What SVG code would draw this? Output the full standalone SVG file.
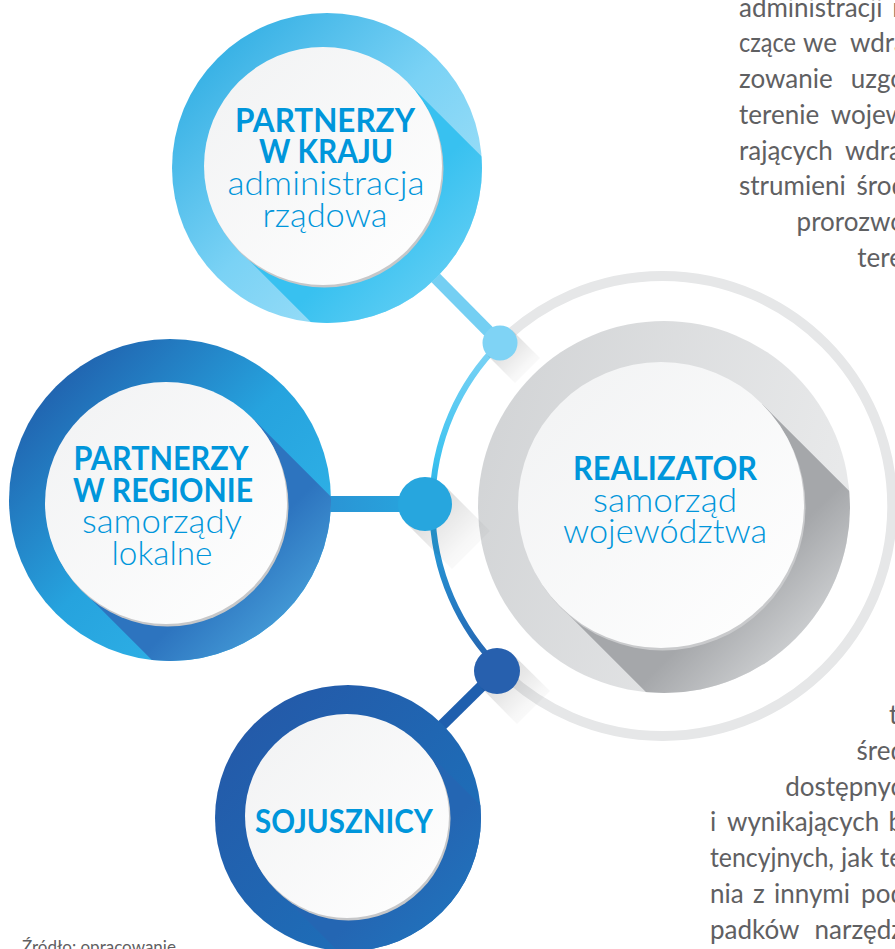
<svg xmlns="http://www.w3.org/2000/svg" width="895" height="949" viewBox="0 0 895 949">
<defs>
  <style>
    .hd{font-family:Lato,"Liberation Sans",sans-serif;font-weight:700;font-size:33px;fill:#0096db;text-anchor:middle}
    .sub{font-family:Lato,"Liberation Sans",sans-serif;font-weight:300;font-size:34px;fill:#0096db;text-anchor:middle}
    .body{font-family:Lato,"Liberation Sans",sans-serif;font-weight:400;font-size:26px;fill:#5f6062}
    .e{text-anchor:end}
    .src{font-family:Lato,"Liberation Sans",sans-serif;font-size:17px;fill:#5f6062}
  </style>
  <linearGradient id="gTopRing" x1="0" y1="0" x2="1" y2="1">
    <stop offset="0" stop-color="#1fa5df"/><stop offset="0.5" stop-color="#7ad2f5"/><stop offset="1" stop-color="#b2e6f9"/>
  </linearGradient>
  <linearGradient id="gTopBand" gradientUnits="userSpaceOnUse" x1="380" y1="223" x2="470" y2="313">
    <stop offset="0" stop-color="#38c1f0"/><stop offset="1" stop-color="#6ed2f5"/>
  </linearGradient>
  <linearGradient id="gLeftRing" x1="0" y1="0" x2="1" y2="1">
    <stop offset="0" stop-color="#1f4c9e"/><stop offset="0.5" stop-color="#26a3de"/><stop offset="1" stop-color="#35bbec"/>
  </linearGradient>
  <linearGradient id="gLeftBand" gradientUnits="userSpaceOnUse" x1="230" y1="567" x2="330" y2="667">
    <stop offset="0" stop-color="#2d74bf"/><stop offset="1" stop-color="#55b8e9"/>
  </linearGradient>
  <linearGradient id="gSojRing" x1="0" y1="0" x2="1" y2="1">
    <stop offset="0" stop-color="#2556a6"/><stop offset="1" stop-color="#1b76be"/>
  </linearGradient>
  <linearGradient id="gSojBand" gradientUnits="userSpaceOnUse" x1="400" y1="870" x2="480" y2="950">
    <stop offset="0" stop-color="#2466b3"/><stop offset="1" stop-color="#1f78c0"/>
  </linearGradient>
  <linearGradient id="gGray" x1="0" y1="0" x2="1" y2="0.3">
    <stop offset="0" stop-color="#d0d2d4"/><stop offset="1" stop-color="#e8e9ea"/>
  </linearGradient>
  <linearGradient id="gGrayBand" gradientUnits="userSpaceOnUse" x1="740" y1="585" x2="800" y2="645">
    <stop offset="0" stop-color="#a5a7aa"/><stop offset="1" stop-color="#cdcfd1"/>
  </linearGradient>
  <linearGradient id="gWhite" x1="0" y1="0" x2="1" y2="1">
    <stop offset="0" stop-color="#f1f2f3"/><stop offset="1" stop-color="#ffffff"/>
  </linearGradient>
  <linearGradient id="gArc" gradientUnits="userSpaceOnUse" x1="0" y1="343" x2="0" y2="670">
    <stop offset="0" stop-color="#7fd3f5"/><stop offset="0.35" stop-color="#3ec3f0"/><stop offset="0.5" stop-color="#27a8e0"/><stop offset="0.75" stop-color="#2684c9"/><stop offset="1" stop-color="#2560ad"/>
  </linearGradient>
  <linearGradient id="gMid" gradientUnits="userSpaceOnUse" x1="300" y1="0" x2="425" y2="0">
    <stop offset="0" stop-color="#2b8fd2"/><stop offset="1" stop-color="#27a6de"/>
  </linearGradient>
  <linearGradient id="gShadow" x1="0" y1="0" x2="1" y2="1">
    <stop offset="0" stop-color="#000" stop-opacity="0.2"/><stop offset="0.7" stop-color="#000" stop-opacity="0.03"/><stop offset="1" stop-color="#000" stop-opacity="0"/>
  </linearGradient>
  <clipPath id="cTop"><circle cx="327" cy="168" r="155"/></clipPath>
  <clipPath id="cLeft"><circle cx="170" cy="500" r="161"/></clipPath>
  <clipPath id="cSoj"><circle cx="348" cy="818" r="133"/></clipPath>
  <clipPath id="cGray"><circle cx="664" cy="507" r="186"/></clipPath>
</defs>

<rect width="895" height="949" fill="#ffffff"/>

<!-- body text -->
<g id="body-text" class="body">
  <text y="17"><tspan x="739">administracji</tspan><tspan class="e" x="902">r</tspan></text>
  <text y="52"><tspan x="739" textLength="57" lengthAdjust="spacingAndGlyphs">czące</tspan><tspan x="803">we</tspan><tspan class="e" x="907">wdra</tspan></text>
  <text y="88"><tspan x="739">zowanie</tspan><tspan class="e" x="905">uzgo</tspan></text>
  <text y="124"><tspan x="739">terenie</tspan><tspan class="e" x="906">wojew</tspan></text>
  <text y="160"><tspan x="739">rających</tspan><tspan class="e" x="902">wdra</tspan></text>
  <text y="195"><tspan x="739">strumieni</tspan><tspan class="e" x="906">środ</tspan></text>
  <text y="231"><tspan class="e" x="905">prorozwo</tspan></text>
  <text y="267"><tspan class="e" x="903">tere</tspan></text>

  <text y="724"><tspan x="889">t</tspan></text>
  <text y="760"><tspan class="e" x="905">śred</tspan></text>
  <text y="796"><tspan class="e" x="903">dostępnyc</tspan></text>
  <text y="831"><tspan x="710">i</tspan><tspan x="727">wynikających</tspan><tspan class="e" x="903">b</tspan></text>
  <text y="867"><tspan x="710" textLength="124" lengthAdjust="spacingAndGlyphs">tencyjnych,</tspan><tspan x="841">jak</tspan><tspan x="880">te</tspan></text>
  <text y="903"><tspan x="710">nia</tspan><tspan x="753">z</tspan><tspan x="774">innymi</tspan><tspan class="e" x="905">pod</tspan></text>
  <text y="939"><tspan x="710">padków</tspan><tspan class="e" x="903">narzędz</tspan></text>
</g>
<text id="source" class="src" x="22" y="953">Źródło: opracowanie</text>

<!-- connectors -->
<g id="connectors">
  <line x1="327" y1="168" x2="500" y2="343" stroke="#74cff3" stroke-width="12"/>
  <line x1="170" y1="504" x2="425" y2="504" stroke="url(#gMid)" stroke-width="16"/>
  <line x1="497" y1="671" x2="348" y2="818" stroke="#1f5fae" stroke-width="11"/>
  <path d="M500,343 A230,230 0 1 1 500,669" fill="none" stroke="#e6e7e8" stroke-width="10"/>
  <path d="M500,343 A230,230 0 0 0 500,669" fill="none" stroke="url(#gArc)" stroke-width="6"/>
</g>

<!-- center node -->
<g id="node-realizator">
  <circle cx="664" cy="507" r="186" fill="url(#gGray)"/>
  <g clip-path="url(#cGray)">
    <polygon points="762.1,403.9 1012,654 810,856 559.9,606.1" fill="url(#gGrayBand)"/>
  </g>
  <circle cx="662.5" cy="507.5" r="143" fill="#c9cacc"/>
  <circle cx="661" cy="505" r="143" fill="url(#gWhite)"/>
  <text class="hd" x="665" y="480" textLength="184" lengthAdjust="spacingAndGlyphs">REALIZATOR</text>
  <text class="sub" x="665" y="512" textLength="144" lengthAdjust="spacingAndGlyphs">samorząd</text>
  <text class="sub" x="665" y="543" textLength="204" lengthAdjust="spacingAndGlyphs">województwa</text>
</g>

<!-- dots -->
<g id="dots">
  <polygon points="512.4,330.6 540,358 515,383 487.6,355.4" fill="url(#gShadow)"/>
  <polygon points="444.1,484.9 490,531 452,569 405.9,523.1" fill="url(#gShadow)"/>
  <polygon points="513.3,654.7 550,691 517,724 480.7,687.3" fill="url(#gShadow)"/>
  <circle cx="500" cy="343" r="17.5" fill="#7fd3f5"/>
  <circle cx="425" cy="504" r="27" fill="#27a6de"/>
  <circle cx="497" cy="671" r="23" fill="#2760ae"/>
</g>

<!-- top node -->
<g id="node-kraj">
  <circle cx="327" cy="168" r="155" fill="url(#gTopRing)"/>
  <g clip-path="url(#cTop)">
    <polygon points="407.1,81.9 657,332 489,500 238.9,250.1" fill="url(#gTopBand)"/>
  </g>
  <circle cx="324.5" cy="168.5" r="119" fill="#c6c7c9"/>
  <circle cx="323" cy="166" r="119" fill="url(#gWhite)"/>
  <text class="hd" x="325" y="132" textLength="180" lengthAdjust="spacingAndGlyphs">PARTNERZY</text>
  <text class="hd" x="326" y="163" textLength="134" lengthAdjust="spacingAndGlyphs">W KRAJU</text>
  <text class="sub" x="326" y="195" textLength="197" lengthAdjust="spacingAndGlyphs">administracja</text>
  <text class="sub" x="325" y="227" textLength="125" lengthAdjust="spacingAndGlyphs">rządowa</text>
</g>

<!-- left node -->
<g id="node-region">
  <circle cx="170" cy="500" r="161" fill="url(#gLeftRing)"/>
  <g clip-path="url(#cLeft)">
    <polygon points="251.6,417.4 502,668 331,839 80.4,588.6" fill="url(#gLeftBand)"/>
  </g>
  <circle cx="167.5" cy="505.5" r="121" fill="#c6c7c9"/>
  <circle cx="166" cy="503" r="121" fill="url(#gWhite)"/>
  <text class="hd" x="161" y="470" textLength="175" lengthAdjust="spacingAndGlyphs">PARTNERZY</text>
  <text class="hd" x="163" y="502" textLength="180" lengthAdjust="spacingAndGlyphs">W REGIONIE</text>
  <text class="sub" x="162" y="533" textLength="160" lengthAdjust="spacingAndGlyphs">samorządy</text>
  <text class="sub" x="162" y="565" textLength="101" lengthAdjust="spacingAndGlyphs">lokalne</text>
</g>

<!-- bottom node -->
<g id="node-sojusznicy">
  <circle cx="348" cy="818" r="133" fill="url(#gSojRing)"/>
  <g clip-path="url(#cSoj)">
    <polygon points="419.1,743.9 669,994 525,1138 274.9,888.1" fill="url(#gSojBand)"/>
  </g>
  <circle cx="348.5" cy="818.5" r="102" fill="#c6c7c9"/>
  <circle cx="347" cy="816" r="102" fill="url(#gWhite)"/>
  <text class="hd" x="344" y="833" textLength="178" lengthAdjust="spacingAndGlyphs">SOJUSZNICY</text>
</g>
</svg>
